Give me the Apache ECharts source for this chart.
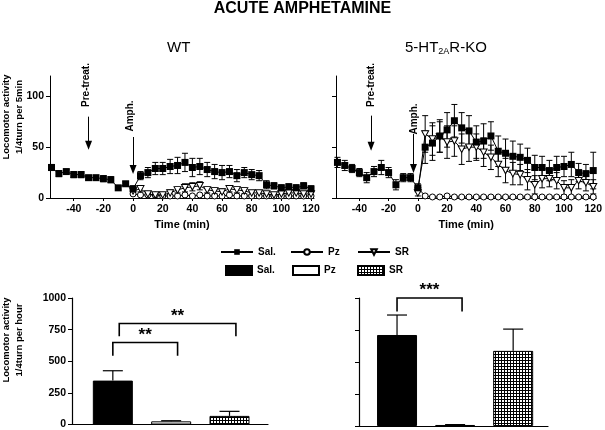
<!DOCTYPE html>
<html><head><meta charset="utf-8">
<script src="https://cdn.jsdelivr.net/npm/echarts@6/dist/echarts.min.js"></script>
<style>html,body{margin:0;padding:0;background:#fff}#c{width:605px;height:430px}</style>
</head><body><div id="c"></div>
<script>
// ---------- data ----------
var timesAll = [-55,-50,-45,-40,-35,-30,-25,-20,-15,-10,-5,0,5,10,15,20,25,30,35,40,45,50,55,60,65,70,75,80,85,90,95,100,105,110,115,120];
var timesPost = [0,5,10,15,20,25,30,35,40,45,50,55,60,65,70,75,80,85,90,95,100,105,110,115,120];
var xTickValues = [-40,-20,0,20,40,60,80,100,120];
var yTickValues = [0,50,100];

var wtSal    = [30,24,26,23,23,20,20,19,18,10,14,9,22,25,29,29,31,32,35,30,31,28,26,25,26,22,25,23,22,13,12,10,11,10,12,9];
var wtSalErr = [3,3,2,3,3,2,2,3,3,2,2,3,4,5,6,6,7,8,9,9,8,7,7,7,6,6,5,5,5,4,3,3,3,3,3,3];
var wtPz     = [4,3,3,3,2,2,2,3,2,3,2,2,2,3,2,2,2,2,2,2,2,2,2,2,2];
var wtPzErr  = [1,1,1,1,1,1,1,1,1,1,1,1,1,1,1,1,1,1,1,1,1,1,1,1,1];
var wtSr     = [7,9,4,3,3,5,8,10,11,12,8,7,6,9,8,7,5,5,4,3,4,5,5,4,4];
var wtSrErr  = [2,3,2,2,2,3,3,4,4,4,3,3,3,3,3,3,2,2,2,2,2,2,2,2,2];

var koSal    = [35,32,29,25,20,26,30,25,13,20,20,10,50,54,61,67,76,69,66,55,56,61,46,44,41,40,37,30,30,27,30,31,33,25,24,27];
var koSalErr = [5,5,4,4,5,5,7,5,5,4,4,4,16,17,16,17,16,15,15,16,17,14,15,14,15,13,12,12,11,10,11,10,12,9,9,18];
var koPz     = [10,2,1,1,2,1,1,1,1,1,1,1,1,1,1,1,1,1,1,1,1,1,1,1,1];
var koPzErr  = [2,1,1,1,1,1,1,1,1,1,1,1,1,1,1,1,1,1,1,1,1,1,1,1,1];
var koSr     = [5,63,58,60,55,56,48,50,50,45,40,33,27,24,23,18,13,19,19,17,10,10,17,15,11];
var koSrErr  = [3,18,16,15,16,15,15,14,13,14,12,12,12,11,10,10,9,9,8,8,7,8,8,8,7];

var groups   = ['Sal.','Pz','SR'];
var groupPos = [1,2,3];
var wtBar    = [347,25,68];
var wtBarErr = [78,5,36];
var koBar    = [711,8,587];
var koBarErr = [156,3,170];

// significance brackets: [fromX, toX, top, leftLegEnd, rightLegEnd]
var wtBrackets = [[1,2.11,648,543,543],[1.11,3.11,799,697,697]];
var wtBracketLabels = ['**','**'];
var koBrackets = [[1,2.12,1000,895,895]];
var koBracketLabels = ['***'];

// annotation arrows: [x, yStart, yTip]
var wtArrows = [[-30,80,52],[0,60,28]];
var koArrows = [[-32,81,51],[-3,63,29]];

// ---------- helpers ----------
var FONT = '"Liberation Sans", Arial, sans-serif';
function pairs(xs, ys){ return ys.map(function(v,i){ return [xs[i], v]; }); }
function errData(xs, ys, es){ return ys.map(function(v,i){ return [xs[i], Math.max(0, v-es[i]), v+es[i]]; }); }

function lineErr(params, api){
  var x=api.value(0), lo=api.value(1), hi=api.value(2);
  var a=api.coord([x,hi]), b=api.coord([x,lo]);
  var st={stroke:'#000', lineWidth:1};
  var w=3;
  return {type:'group', children:[
    {type:'line', shape:{x1:a[0],y1:a[1],x2:b[0],y2:b[1]}, style:st},
    {type:'line', shape:{x1:a[0]-w,y1:a[1],x2:a[0]+w,y2:a[1]}, style:st},
    {type:'line', shape:{x1:b[0]-w,y1:b[1],x2:b[0]+w,y2:b[1]}, style:st}
  ]};
}
function barErr(params, api){
  var x=api.value(0), v=api.value(1), hi=api.value(2);
  var a=api.coord([x,hi]), b=api.coord([x,v]);
  var st={stroke:'#000', lineWidth:1.2};
  var w=10;
  return {type:'group', children:[
    {type:'line', shape:{x1:a[0],y1:a[1],x2:b[0],y2:b[1]}, style:st},
    {type:'line', shape:{x1:a[0]-w,y1:a[1],x2:a[0]+w,y2:a[1]}, style:st}
  ]};
}
function bracketRenderer(labels){
  return function(params, api){
    var x1=api.value(0), x2=api.value(1), top=api.value(2), lL=api.value(3), lR=api.value(4);
    var p1=api.coord([x1,lL]), p2=api.coord([x1,top]), p3=api.coord([x2,top]), p4=api.coord([x2,lR]);
    return {type:'group', children:[
      {type:'polyline', shape:{points:[p1,p2,p3,p4]}, style:{stroke:'#000', lineWidth:1.6, fill:null}},
      {type:'text', x:(p2[0]+p3[0])/2, y:p2[1]+1, style:{text:labels[params.dataIndex], font:'bold 17px '+FONT, fill:'#000', align:'center', verticalAlign:'bottom'}}
    ]};
  };
}
function arrowLines(arr){
  return arr.map(function(a){ return [{coord:[a[0],a[1]]},{coord:[a[0],a[2]]}]; });
}

// hatch pattern
var pc = document.createElement('canvas'); pc.width=3; pc.height=3;
var cx = pc.getContext('2d'); cx.fillStyle='#fff'; cx.fillRect(0,0,3,3);
cx.fillStyle='#000'; cx.fillRect(0,0,3,1); cx.fillRect(0,0,1,3);
var hatch = {image: pc, repeat: 'repeat'};

var labelStyle = {color:'#000', fontSize:10.5, fontWeight:'bold', fontFamily:FONT};
function lineX(gi){
  return {gridIndex:gi, type:'value', min:-56, max:122,
    axisLine:{show:true, onZero:false, lineStyle:{color:'#000', width:1}},
    axisTick:{show:true, length:3, customValues:xTickValues, lineStyle:{color:'#000'}},
    axisLabel:Object.assign({customValues:xTickValues, margin:6}, labelStyle),
    splitLine:{show:false},
    name:'Time (min)', nameLocation:'middle', nameGap:21,
    nameTextStyle:{color:'#000', fontSize:11, fontWeight:'bold', fontFamily:FONT}};
}
function lineY(gi, showLabels){
  return {gridIndex:gi, type:'value', min:0, max:120,
    axisLine:{show:true, onZero:false, lineStyle:{color:'#000', width:1}},
    axisTick:{show:true, length:4, customValues:yTickValues, lineStyle:{color:'#000'}},
    axisLabel:Object.assign({show:showLabels, customValues:yTickValues, margin:6}, labelStyle),
    splitLine:{show:false}};
}
function barX(gi, mn, mx){
  return {gridIndex:gi, type:'value', min:mn, max:mx,
    axisLine:{show:true, onZero:false, lineStyle:{color:'#000', width:1.2}},
    axisTick:{show:false}, axisLabel:{show:false}, splitLine:{show:false}};
}
function barY(gi, showLabels){
  return {gridIndex:gi, type:'value', min:0, max:1000, interval:250,
    axisLine:{show:true, onZero:false, lineStyle:{color:'#000', width:1.2}},
    axisTick:{show:true, length:4, lineStyle:{color:'#000'}},
    axisLabel:Object.assign({show:showLabels, margin:6, formatter:function(v){ return String(v); }}, labelStyle),
    splitLine:{show:false}};
}

var salLine = {symbol:'rect', symbolSize:7, itemStyle:{color:'#000'}, lineStyle:{color:'#000', width:1}};
var pzLine  = {symbol:'circle', symbolSize:6, itemStyle:{color:'#fff', borderColor:'#000', borderWidth:1}, lineStyle:{color:'#000', width:1}};
var srLine  = {symbol:'path://M0,0 L10,0 L5,9 Z', symbolSize:[7,6.5], itemStyle:{color:'#fff', borderColor:'#000', borderWidth:1}, lineStyle:{color:'#000', width:1}};

function lineSeries(gi, sal, salErr, pz, pzErr, sr, srErr, arrows){
  var base = {xAxisIndex:gi, yAxisIndex:gi};
  function cust(name, d){ return Object.assign({type:'custom', name:name, renderItem:lineErr, encode:{x:0, y:[1,2]}, data:d, z:2, silent:true}, base); }
  return [
    cust('e1'+gi, errData(timesAll, sal, salErr)),
    cust('e2'+gi, errData(timesPost, pz, pzErr)),
    cust('e3'+gi, errData(timesPost, sr, srErr)),
    Object.assign({type:'line', name:'Pz', data:pairs(timesPost, pz), z:3}, pzLine, base),
    Object.assign({type:'line', name:'SR', data:pairs(timesPost, sr), z:4}, srLine, base),
    Object.assign({type:'line', name:'Sal.', data:pairs(timesAll, sal), z:5,
      markLine:{silent:true, symbol:['none','triangle'], symbolSize:[7,9],
        lineStyle:{color:'#000', width:1, type:'solid'}, label:{show:false}, emphasis:{disabled:true},
        data:arrowLines(arrows)}}, salLine, base)
  ];
}
var barStyles = [
  {color:'#000', borderColor:'#000', borderWidth:1},
  {color:'#fff', borderColor:'#000', borderWidth:1},
  {color:hatch, borderColor:'#000', borderWidth:1}
];
function barSeries(gi, vals, errs, brackets, blabels){
  var base = {xAxisIndex:gi, yAxisIndex:gi};
  var out = groups.map(function(g,i){
    return Object.assign({type:'bar', name:g+'#', barWidth:40, barGap:'-100%', data:[[groupPos[i], vals[i]]], itemStyle:barStyles[i], z:2}, base);
  });
  out.push(Object.assign({type:'custom', name:'be'+gi, renderItem:barErr, encode:{x:0,y:[1,2]}, z:3, silent:true,
    data:vals.map(function(v,i){ return [groupPos[i], v, v+errs[i]]; })}, base));
  out.push(Object.assign({type:'custom', name:'br'+gi, renderItem:bracketRenderer(blabels), encode:{x:[0,1],y:[2,3,4]}, z:3, silent:true, clip:false,
    data:brackets}, base));
  return out;
}

var legendText = {color:'#000', fontSize:10, fontWeight:'bold', fontFamily:FONT};
var lineLegendLeft = [220, 290, 357];
var barLegendLeft  = [225, 292, 357];
var legends = [];
groups.forEach(function(g,i){
  legends.push({data:[g], left:lineLegendLeft[i], top:247, padding:0, itemWidth:32, itemHeight:7, selectedMode:false, textStyle:legendText});
});
groups.forEach(function(g,i){
  legends.push({data:[g+'#'], formatter:function(n){return n.replace('#','');}, left:barLegendLeft[i], top:265, padding:0,
    itemWidth:26, itemHeight:9, icon:'rect', selectedMode:false, textStyle:legendText});
});

var chart = echarts.init(document.getElementById('c'), null, {renderer:'canvas'});
chart.setOption({
  animation:false,
  backgroundColor:'#fff',
  textStyle:{fontFamily:FONT},
  title:[
    {text:'ACUTE AMPHETAMINE', left:'center', top:1, padding:0, textStyle:{fontSize:16, fontWeight:'bold', color:'#000', fontFamily:FONT}},
    {text:'WT', left:167, top:40, padding:0, textStyle:{fontSize:15, fontWeight:'normal', color:'#000', fontFamily:FONT}},
    {text:'{n|5-HT}{s|2A}{n|R-KO}', left:405, top:40, padding:0, textStyle:{fontWeight:'normal', rich:{
      n:{fontSize:15, lineHeight:16, verticalAlign:'top', color:'#000', fontWeight:'normal', fontFamily:FONT},
      s:{fontSize:9, lineHeight:9, verticalAlign:'bottom', color:'#000', fontWeight:'normal', fontFamily:FONT}}}}
  ],
  legend:legends,
  grid:[
    {left:50, top:76, width:264, height:122},
    {left:336, top:76, width:264, height:122},
    {left:72, top:298, width:196, height:128},
    {left:359, top:298, width:189, height:128}
  ],
  xAxis:[lineX(0), lineX(1), barX(2,0.3,3.66), barX(3,0.345,3.6)],
  yAxis:[lineY(0,true), lineY(1,false), barY(2,true), barY(3,false)],
  graphic:[
    {type:'text', x:13, y:117, rotation:Math.PI/2, style:{text:'Locomotor activity\n1/4turn per 5min', font:'bold 9.5px '+FONT, fill:'#000', align:'center', verticalAlign:'middle', lineHeight:13}},
    {type:'text', x:13, y:340, rotation:Math.PI/2, style:{text:'Locomotor activity\n1/4turn per hour', font:'bold 9.5px '+FONT, fill:'#000', align:'center', verticalAlign:'middle', lineHeight:13}},
    {type:'text', x:86, y:85, rotation:Math.PI/2, style:{text:'Pre-treat.', font:'bold 10px '+FONT, fill:'#000', align:'center', verticalAlign:'middle'}},
    {type:'text', x:130, y:116, rotation:Math.PI/2, style:{text:'Amph.', font:'bold 10px '+FONT, fill:'#000', align:'center', verticalAlign:'middle'}},
    {type:'text', x:371, y:85, rotation:Math.PI/2, style:{text:'Pre-treat.', font:'bold 10px '+FONT, fill:'#000', align:'center', verticalAlign:'middle'}},
    {type:'text', x:414, y:119, rotation:Math.PI/2, style:{text:'Amph.', font:'bold 10px '+FONT, fill:'#000', align:'center', verticalAlign:'middle'}}
  ],
  series: [].concat(
    lineSeries(0, wtSal, wtSalErr, wtPz, wtPzErr, wtSr, wtSrErr, wtArrows),
    lineSeries(1, koSal, koSalErr, koPz, koPzErr, koSr, koSrErr, koArrows),
    barSeries(2, wtBar, wtBarErr, wtBrackets, wtBracketLabels),
    barSeries(3, koBar, koBarErr, koBrackets, koBracketLabels)
  )
});
</script></body></html>
